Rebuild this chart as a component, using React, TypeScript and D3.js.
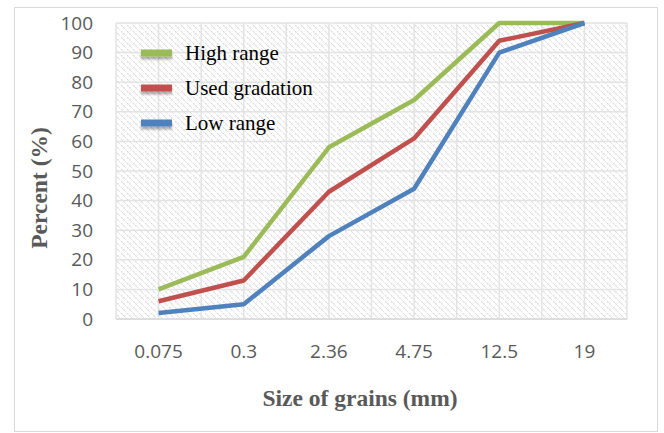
import React from "react";
import * as d3 from "d3";

const sizes = ["0.075", "0.3", "2.36", "4.75", "12.5", "19"];
const highRange = [10, 21, 58, 74, 100, 100];
const usedGradation = [6, 13, 43, 61, 94, 100];
const lowRange = [2, 5, 28, 44, 90, 100];
const yTicks = [0, 10, 20, 30, 40, 50, 60, 70, 80, 90, 100];

const seriesList = [
  { name: "High range", values: highRange, color: "#9BBB59" },
  { name: "Used gradation", values: usedGradation, color: "#C0504D" },
  { name: "Low range", values: lowRange, color: "#4F81BD" },
];

const W = 664;
const H = 433;
const plot = { left: 116, right: 627, top: 23, bottom: 319 };

export default function App() {
  const x = d3
    .scaleBand<string>()
    .domain(sizes)
    .range([plot.left, plot.right])
    .paddingInner(0)
    .paddingOuter(0);
  const y = d3.scaleLinear().domain([0, 100]).range([plot.bottom, plot.top]);
  const cx = (s: string) => (x(s) as number) + x.bandwidth() / 2;

  const line = d3
    .line<number>()
    .x((_, i) => cx(sizes[i]))
    .y((v) => y(v));

  // vertical grid every half band
  const vGrid: number[] = [];
  for (let i = 0; i <= sizes.length * 2; i++) {
    vGrid.push(plot.left + (i * x.bandwidth()) / 2);
  }

  const tickFont = "'Open Sans', 'Liberation Sans', sans-serif";
  const serif = "'Liberation Serif', 'Times New Roman', serif";

  return (
    <svg
      width={W}
      height={H}
      style={{ position: "absolute", left: 0, top: 0, background: "#fff" }}
    >
      <defs>
        <pattern
          id="hatch"
          width="6"
          height="6"
          patternUnits="userSpaceOnUse"
        >
          <path
            d="M-1,-1 L7,7 M-4,2 L2,8 M4,-2 L10,4"
            stroke="#d6d6d6"
            strokeWidth="1.1"
            strokeDasharray="2 1"
          />
        </pattern>
        <filter
          id="shadow"
          filterUnits="userSpaceOnUse"
          x="-20"
          y="-20"
          width="80"
          height="50"
        >
          <feGaussianBlur in="SourceAlpha" stdDeviation="1.2" />
          <feOffset dx="0" dy="3" result="b" />
          <feComponentTransfer>
            <feFuncA type="linear" slope="0.3" />
          </feComponentTransfer>
          <feMerge>
            <feMergeNode />
            <feMergeNode in="SourceGraphic" />
          </feMerge>
        </filter>
      </defs>

      {/* chart frame */}
      <rect x={14.5} y={7.5} width={643} height={424} fill="#fff" stroke="#d9d9d9" />

      {/* plot area */}
      <rect
        x={plot.left}
        y={plot.top}
        width={plot.right - plot.left}
        height={plot.bottom - plot.top}
        fill="url(#hatch)"
      />
      {yTicks.map((t) => (
        <line
          key={"h" + t}
          x1={plot.left}
          x2={plot.right}
          y1={y(t)}
          y2={y(t)}
          stroke="#e3e3e3"
          strokeWidth={1.5}
        />
      ))}
      {vGrid.map((gx, i) => (
        <line
          key={"v" + i}
          x1={gx}
          x2={gx}
          y1={plot.top}
          y2={plot.bottom}
          stroke="#e3e3e3"
          strokeWidth={1.5}
        />
      ))}
      <line
        x1={plot.left}
        x2={plot.right}
        y1={plot.bottom}
        y2={plot.bottom}
        stroke="#d9d9d9"
        strokeWidth={1.5}
      />

      {/* y tick labels */}
      {yTicks.map((t) => (
        <text
          key={"yt" + t}
          x={93}
          y={y(t)}
          dy="0.35em"
          textAnchor="end"
          fontFamily={tickFont}
          fontSize={19}
          fill="#595959"
        >
          {t}
        </text>
      ))}

      {/* x tick labels */}
      {sizes.map((s) => (
        <text
          key={"xt" + s}
          x={cx(s)}
          y={358}
          textAnchor="middle"
          fontFamily={tickFont}
          fontSize={19}
          fill="#595959"
        >
          {s}
        </text>
      ))}

      {/* series */}
      {seriesList.map((s) => (
        <path
          key={s.name}
          d={line(s.values) || ""}
          fill="none"
          stroke={s.color}
          strokeWidth={4.5}
          strokeLinejoin="round"
        />
      ))}

      {/* legend */}
      {seriesList.map((s, i) => (
        <g key={"lg" + s.name} transform={`translate(141, ${53 + i * 35})`}>
          <rect
            x={0}
            y={-3.5}
            width={31}
            height={7}
            fill={s.color}
            filter="url(#shadow)"
          />
          <text
            x={44}
            y={0}
            dy="0.35em"
            fontFamily={serif}
            fontSize={21}
            fill="#000"
          >
            {s.name}
          </text>
        </g>
      ))}

      {/* axis titles */}
      <text
        x={360}
        y={406}
        textAnchor="middle"
        fontFamily={serif}
        fontWeight="bold"
        fontSize={23.5}
        fill="#595959"
      >
        Size of grains (mm)
      </text>
      <text
        transform={`translate(47, 188) rotate(-90)`}
        textAnchor="middle"
        fontFamily={serif}
        fontWeight="bold"
        fontSize={23.5}
        fill="#595959"
      >
        Percent (%)
      </text>
    </svg>
  );
}
